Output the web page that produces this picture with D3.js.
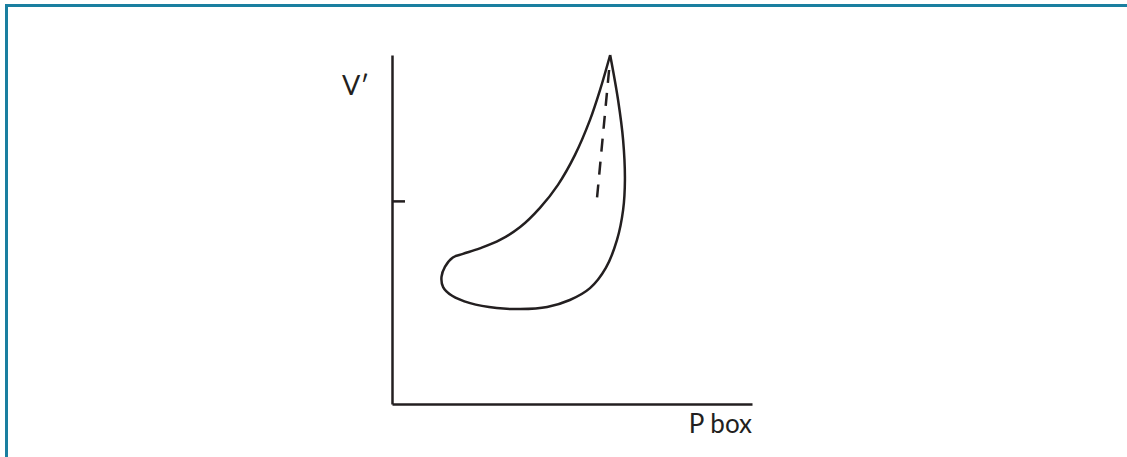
<!DOCTYPE html>
<html>
<head>
<meta charset="utf-8">
<script src="https://cdn.jsdelivr.net/npm/d3@7"></script>
<style>
  html, body { margin: 0; padding: 0; background: #fff; }
  svg { display: block; }
  text { font-family: Lato, "DejaVu Sans", sans-serif; fill: #231f20; }
</style>
</head>
<body>
<svg id="chart" width="1127" height="457"></svg>
<script>
// Pressure–flow loop: box pressure (x) against flow V′ (y), arbitrary units 0–100
const loopPressure = [60.6, 57.8, 55.0, 50.8, 46.1, 41.1, 35.6, 30.0, 24.4, 19.7, 16.9, 14.7, 13.75,
                      14.2, 16.7, 21.7, 29.1, 35.6, 43.1, 49.4, 55.0, 59.4, 62.5, 64.2, 64.7, 64.2,
                      62.8, 60.6];
const loopFlow     = [100, 90.0, 81.4, 71.3, 62.8, 56.2, 50.7, 47.0, 44.6, 43.0, 42.0, 39.3, 36.4,
                      33.5, 31.0, 28.9, 27.5, 27.2, 27.8, 29.8, 33.2, 39.0, 47.0, 55.6, 64.2, 75.6,
                      87.1, 100];

// Dashed reference line near the peak
const dashPressure = [60.3, 56.9];
const dashFlow     = [95.7, 58.5];

// Single tick on the flow axis
const flowTicks = [58.2];

const axisLabels = { x: "P box", y: "V\u2032" };

const ink = "#231f20";
const svg = d3.select("#chart");

// Frame along the top and left edge
svg.append("path")
  .attr("d", "M6.5,457 V5.5 H1127")
  .attr("fill", "none")
  .attr("stroke", "#1a7fa0")
  .attr("stroke-width", 3);

const x = d3.scaleLinear().domain([0, 100]).range([392, 752]);
const y = d3.scaleLinear().domain([0, 100]).range([404, 55]);

const xAxis = svg.append("g")
  .attr("transform", `translate(0,${y(0)})`)
  .call(d3.axisBottom(x).tickValues([]).tickSizeOuter(0));

const yAxis = svg.append("g")
  .attr("transform", `translate(${x(0)},0)`)
  .call(d3.axisLeft(y).tickValues(flowTicks).tickSize(-13).tickSizeOuter(0).tickFormat(""));

[xAxis, yAxis].forEach(g => {
  g.selectAll(".domain").attr("stroke", ink).attr("stroke-width", 2.5);
  g.selectAll(".tick line").attr("stroke", ink).attr("stroke-width", 2.5);
});

// Loop
const loop = loopPressure.map((p, i) => [p, loopFlow[i]]);
svg.append("path")
  .datum(loop)
  .attr("fill", "none")
  .attr("stroke", ink)
  .attr("stroke-width", 2.5)
  .attr("stroke-linejoin", "round")
  .attr("d", d3.line().x(d => x(d[0])).y(d => y(d[1])).curve(d3.curveCatmullRom.alpha(0.5)));

// Dashed line
const dash = dashPressure.map((p, i) => [p, dashFlow[i]]);
svg.append("path")
  .datum(dash)
  .attr("fill", "none")
  .attr("stroke", ink)
  .attr("stroke-width", 2.5)
  .attr("stroke-dasharray", "13,10")
  .attr("d", d3.line().x(d => x(d[0])).y(d => y(d[1])));

// Axis labels
svg.append("text")
  .attr("x", 752).attr("y", 433)
  .attr("text-anchor", "end")
  .attr("font-size", 26)
  .text(axisLabels.x);

svg.append("text")
  .attr("x", 342).attr("y", 95)
  .attr("font-size", 27)
  .text(axisLabels.y);
</script>
</body>
</html>
